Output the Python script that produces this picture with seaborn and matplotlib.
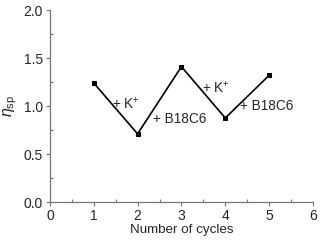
import pandas as pd
import matplotlib.pyplot as plt
import seaborn as sns
from matplotlib.ticker import MultipleLocator

# cycle data
cycles = [1, 2, 3, 4, 5]
eta_sp = [1.24, 0.71, 1.41, 0.875, 1.32]
step_labels = ['+ K$^{+}$', '+ B18C6', '+ K$^{+}$', '+ B18C6']

sns.set_style('ticks')
plt.rcParams['font.family'] = ['Liberation Sans', 'DejaVu Sans']
plt.rcParams['mathtext.fontset'] = 'custom'
plt.rcParams['mathtext.rm'] = 'Liberation Sans'
plt.rcParams['mathtext.it'] = 'Liberation Sans:italic'

df = pd.DataFrame({'cycle': cycles, 'eta': eta_sp})

fig = plt.figure(figsize=(3.24, 2.44), dpi=100)
ax = fig.add_axes([0.154, 0.172, 0.812, 0.787])
sns.lineplot(data=df, x='cycle', y='eta', color='black', lw=1.2,
             marker='s', markersize=3.5, markeredgecolor='black', ax=ax)

# annotation placement (data coords) next to each segment
label_pos = [(1.74, 1.03), (2.95, 0.865), (3.79, 1.19), (4.95, 1.0)]
for lab, (xt, yt) in zip(step_labels, label_pos):
    ax.text(xt, yt, lab, fontsize=9.8, ha='center', va='center')

ax.set_xlim(0, 6)
ax.set_ylim(0, 2.0)
ax.xaxis.set_major_locator(MultipleLocator(1))
ax.xaxis.set_minor_locator(MultipleLocator(0.5))
ax.yaxis.set_major_locator(MultipleLocator(0.5))
ax.yaxis.set_minor_locator(MultipleLocator(0.25))
ax.yaxis.set_major_formatter(plt.FormatStrFormatter('%.1f'))
ax.tick_params(which='major', direction='out', length=3, width=0.8,
               color='#777777', labelsize=10, pad=2)
ax.tick_params(which='minor', direction='in', length=2, width=0.8, color='#777777')
for s in ['top', 'right']:
    ax.spines[s].set_visible(False)
for s in ['left', 'bottom']:
    ax.spines[s].set_color('#777777')
    ax.spines[s].set_linewidth(0.9)

ax.set_xlabel('Number of cycles', fontsize=9.6, labelpad=1)
ax.set_ylabel(r'$\eta_{\mathrm{sp}}$', fontsize=11.5, labelpad=3)

fig.savefig('out.png', dpi=100)
